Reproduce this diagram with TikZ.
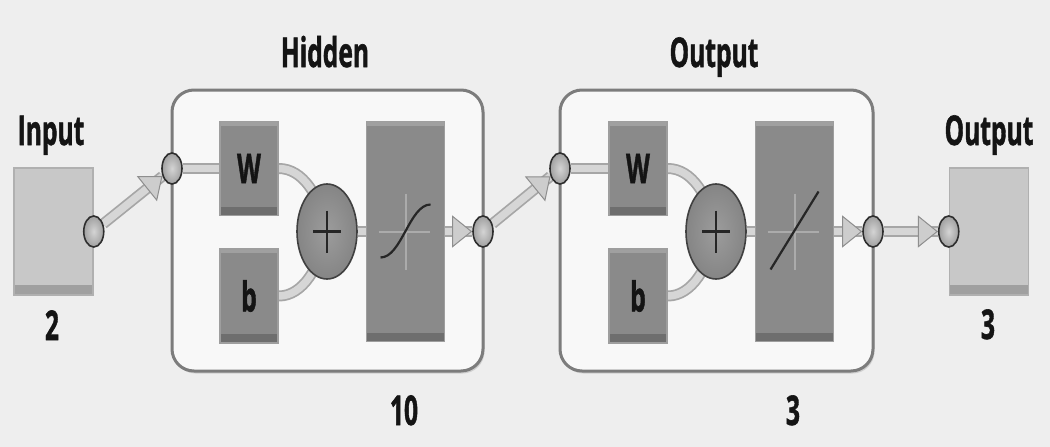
\documentclass[tikz,border=0pt]{standalone}
\usepackage{fontspec}
\newfontfamily\lblfont[BoldFeatures={FakeBold=1.5}]{Open Sans}
\usepackage{graphicx}
\usetikzlibrary{arrows.meta, positioning, shapes.geometric, shadows}

\definecolor{bgcol}{HTML}{EEEEEE}
\definecolor{layerfill}{HTML}{F8F8F8}
\definecolor{layeredge}{HTML}{7C7C7C}
\definecolor{boxface}{HTML}{8A8A8A}
\definecolor{boxrim}{HTML}{9E9E9E}
\definecolor{boxlow}{HTML}{6E6E6E}
\definecolor{boxhigh}{HTML}{A0A0A0}
\definecolor{ioface}{HTML}{C8C8C8}
\definecolor{iorim}{HTML}{B0B0B0}
\definecolor{iolow}{HTML}{A0A0A0}
\definecolor{pipefill}{HTML}{D6D6D6}
\definecolor{pipeedge}{HTML}{A6A6A6}
\definecolor{portlight}{HTML}{D4D4D4}
\definecolor{portdark}{HTML}{A0A0A0}
\definecolor{portedge}{HTML}{2E2E2E}
\definecolor{sumlight}{HTML}{9C9C9C}
\definecolor{sumfill}{HTML}{858585}
\definecolor{tipfill}{HTML}{CDCDCD}
\definecolor{tipedge}{HTML}{8E8E8E}
\definecolor{axiscol}{HTML}{ABABAB}

\newcommand{\sqz}[1]{\scalebox{0.6}[1]{#1}}

\pgfdeclarelayer{back}
\pgfdeclarelayer{wires}
\pgfsetlayers{back,wires,main}

\tikzset{
  lbl/.style={font=\lblfont\bfseries\fontsize{41}{46}\selectfont, text=black!92, inner sep=0pt, anchor=base},
  layerbox/.style={draw=layeredge, line width=3pt, fill=layerfill, rounded corners=22pt,
    minimum width=311pt, minimum height=281pt, outer sep=0pt,
    drop shadow={shadow xshift=1.5pt, shadow yshift=-2.5pt, fill=black!30}},
  wbox/.style={draw=boxrim, line width=1.5pt, fill=boxface, minimum width=58pt, minimum height=94pt,
    inner sep=0pt, font=\lblfont\bfseries\fontsize{41}{46}\selectfont, text=black!92,
    path picture={
      \fill[boxlow] ([yshift=9pt]path picture bounding box.south west) rectangle (path picture bounding box.south east);
      \fill[boxhigh] (path picture bounding box.north west) rectangle ([yshift=-4pt]path picture bounding box.north east);
    }},
  tfbox/.style={wbox, minimum width=78pt, minimum height=220pt},
  iobox/.style={draw=iorim, line width=1.5pt, fill=ioface, minimum width=79pt, minimum height=127pt,
    path picture={
      \fill[iolow] ([yshift=10pt]path picture bounding box.south west) rectangle (path picture bounding box.south east);
    }},
  port/.style={ellipse, draw=portedge, line width=1.6pt, inner color=portlight, outer color=portdark,
    minimum width=20pt, minimum height=31pt, inner sep=0pt},
  sumnode/.style={ellipse, draw=black!75, line width=1.6pt, inner color=sumlight, outer color=sumfill,
    minimum width=60pt, minimum height=95pt, inner sep=0pt},
  plussign/.style={draw=black!85, line width=2.5pt},
  axis/.style={draw=axiscol, line width=2pt},
  tfcurve/.style={draw=black!85, line width=2.2pt},
  pipe/.style={draw=pipefill, line width=7.5pt, preaction={draw=pipeedge, line width=11pt}},
  tipline/.style={draw=pipefill, line width=0.5pt,
    -{Triangle[length=20pt, width=32pt, line width=1pt, color=tipedge, fill=tipfill]}}
}

\begin{document}
\begin{tikzpicture}[x=1pt, y=-1pt, node distance=32pt]
  \useasboundingbox (0,0) rectangle (1050,447);
  \begin{pgfonlayer}{back}
    \fill[bgcol] (0,0) rectangle (1050,447);
    \node[layerbox] (hbox) at (327.5,230.5) {};
    \node[layerbox, minimum width=313pt] (obox) at (716.5,230.5) {};
  \end{pgfonlayer}

  % 入力
  \node[iobox] (inbox) at (53.5,231.5) {};
  \node[port] (inport) at (inbox.east) {};
  \node[lbl] (inname) at (51,145) {\sqz{Input}};
  \node[lbl] (insize) at (52,340) {\sqz{2}};

  % 隠れ層
  \node[lbl] (hname) at (325,67) {\sqz{Hidden}};
  \node[wbox] (hW) at (249,168.5) {\sqz{W}};
  \node[wbox, below=of hW] (hb) {\sqz{b}};
  \node[sumnode] (hsum) at (327,231.5) {};
  \node[tfbox, right=8pt of hsum] (htf) {};
  \node[port] (hin) at (hbox.west |- hW.west) {};
  \node[port] (hout) at (hbox.east |- htf.east) {};
  \node[lbl] (hsize) at (404,425) {\sqz{10}};
  \draw[plussign] ([xshift=-14pt]hsum.center) -- ([xshift=14pt]hsum.center);
  \draw[plussign] ([yshift=21pt]hsum.center) -- ([yshift=-21pt]hsum.center);
  \draw[axis] ([xshift=-27pt]htf.center) -- ([xshift=24pt]htf.center);
  \draw[axis] ([yshift=38pt]htf.center) -- ([yshift=-38pt]htf.center);
  \draw[tfcurve] ([shift={(-25,26)}]htf.center) .. controls ([shift={(-4,26)}]htf.center)
    and ([shift={(4,-27)}]htf.center) .. ([shift={(25,-27)}]htf.center);

  % 出力層
  \begin{scope}[xshift=389pt]
    \node[lbl] (oname) at (325,67) {\sqz{Output}};
    \node[wbox] (oW) at (249,168.5) {\sqz{W}};
    \node[wbox, below=of oW] (ob) {\sqz{b}};
    \node[sumnode] (osum) at (327,231.5) {};
    \node[tfbox, right=8pt of osum] (otf) {};
    \node[port] (oin) at (obox.west |- oW.west) {};
    \node[port] (oout) at (obox.east |- otf.east) {};
    \node[lbl] (osize) at (404,425) {\sqz{3}};
    \draw[plussign] ([xshift=-14pt]osum.center) -- ([xshift=14pt]osum.center);
    \draw[plussign] ([yshift=21pt]osum.center) -- ([yshift=-21pt]osum.center);
    \draw[axis] ([xshift=-27pt]otf.center) -- ([xshift=24pt]otf.center);
    \draw[axis] ([yshift=38pt]otf.center) -- ([yshift=-38pt]otf.center);
    \draw[tfcurve] ([shift={(-24,38)}]otf.center) -- ([shift={(24,-40)}]otf.center);
  \end{scope}

  % 出力
  \node[iobox] (outbox) at (989,231.5) {};
  \node[port] (outport) at (outbox.west) {};
  \node[lbl] (outname) at (989,145) {\sqz{Output}};
  \node[lbl] (outsize) at (988,339) {\sqz{3}};

  % 配線
  \begin{pgfonlayer}{wires}
    \draw[pipe] (inport) -- (hin);
    \draw[tipline] (inport) -- (hin);
    \draw[pipe] (hin) -- (hW);
    \draw[pipe] (hW.east) .. controls +(24,0) and +(-7,-36) .. (hsum.center);
    \draw[pipe] (hb.east) .. controls +(24,0) and +(-7,36) .. (hsum.center);
    \draw[pipe] (hsum) -- (htf);
    \draw[pipe] (htf) -- (hout);
    \draw[tipline] (htf) -- (hout);
    \draw[pipe] (hout) -- (oin);
    \draw[tipline] (hout) -- (oin);
    \draw[pipe] (oin) -- (oW);
    \draw[pipe] (oW.east) .. controls +(24,0) and +(-7,-36) .. (osum.center);
    \draw[pipe] (ob.east) .. controls +(24,0) and +(-7,36) .. (osum.center);
    \draw[pipe] (osum) -- (otf);
    \draw[pipe] (otf) -- (oout);
    \draw[tipline] (otf) -- (oout);
    \draw[pipe] (oout) -- (outport);
    \draw[tipline] (oout) -- (outport);
  \end{pgfonlayer}
\end{tikzpicture}
\end{document}
